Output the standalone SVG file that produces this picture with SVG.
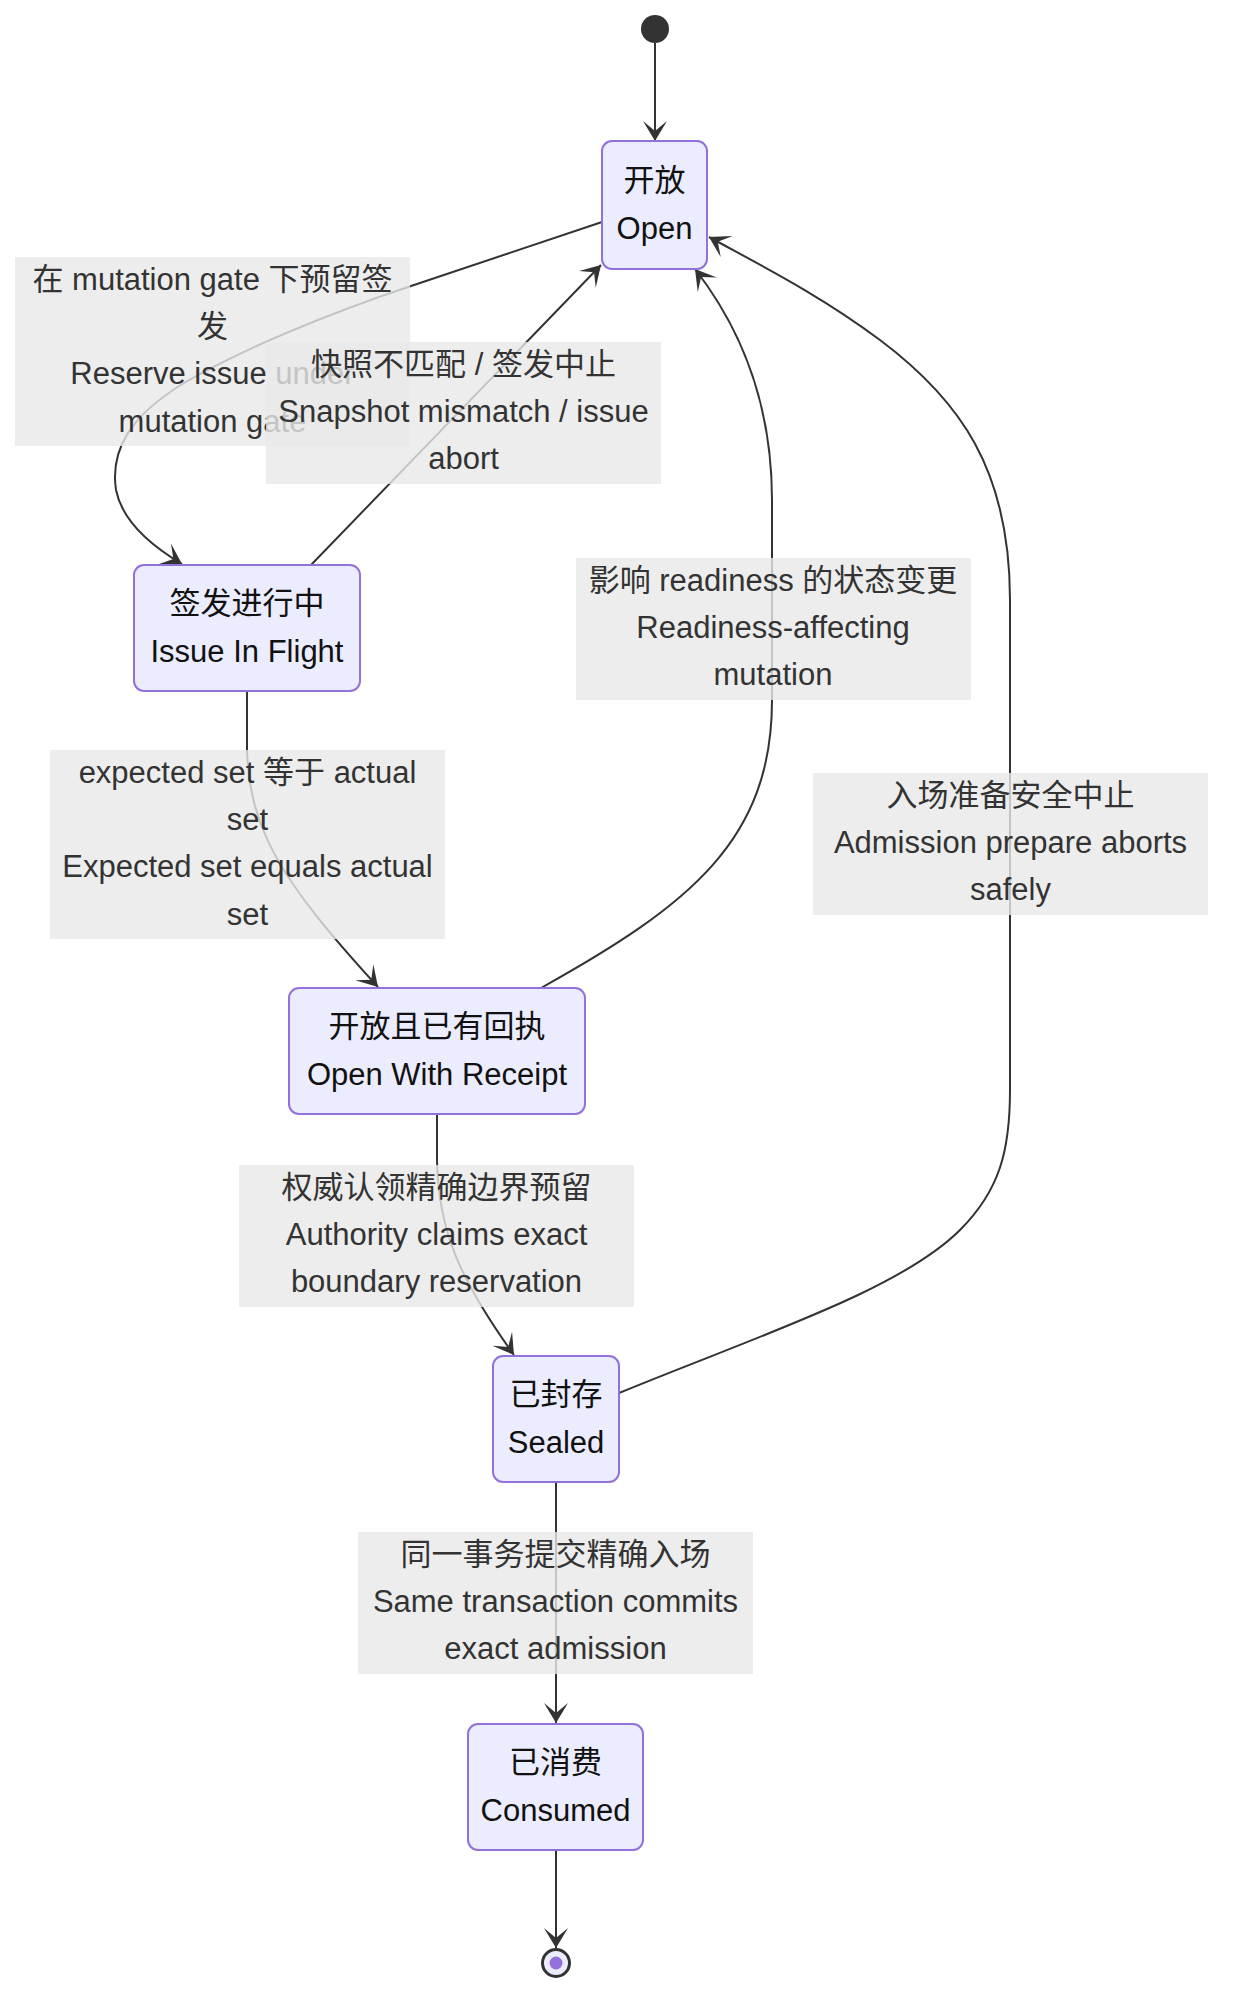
<svg xmlns="http://www.w3.org/2000/svg" width="1240" height="2016" viewBox="0 0 1240 2016">
<style>
.bg{fill:#ffffff}
.node rect{fill:#ECECFF;stroke:#9370DB;stroke-width:2}
.node text{fill:#111111}
text{font-family:"Liberation Sans","Noto Sans CJK SC",sans-serif;font-size:31px;text-anchor:middle;dominant-baseline:central}
.edge{fill:none;stroke:#333333;stroke-width:2}
.lbl rect{fill:#e8e8e8;fill-opacity:0.8}
.lbl text{fill:#333333}
</style>
<defs>
<marker id="arr" markerUnits="userSpaceOnUse" markerWidth="20" markerHeight="24" refX="20" refY="12" orient="auto" viewBox="0 0 20 24">
<path d="M0,0 L20,12 L0,24 L10,12 Z" fill="#333333"/>
</marker>
</defs>
<rect class="bg" x="0" y="0" width="1240" height="2016"/>
<g id="connectors">
<path class="edge" d="M655,43 L655,141" marker-end="url(#arr)"/>
<path class="edge" d="M602,222 L411,286 C330,313 240,350 184,383 C130,416 110,450 116,490 C122,520 150,545 182,564" marker-end="url(#arr)"/>
<path class="edge" d="M311,565 L601,265" marker-end="url(#arr)"/>
<path class="edge" d="M541,988 C690,905 772,840 772,700 L772,500 C772,420 750,340 695,269" marker-end="url(#arr)"/>
<path class="edge" d="M619,1393 C760,1335 900,1290 960,1230 C1000,1190 1010,1150 1010,1090 L1010,600 C1010,470 960,400 880,340 C820,295 760,265 709,237" marker-end="url(#arr)"/>
<path class="edge" d="M247,691 L247,750 C250,830 280,880 378,987" marker-end="url(#arr)"/>
<path class="edge" d="M437,1114 L437,1160 C438,1230 460,1280 514,1355" marker-end="url(#arr)"/>
<path class="edge" d="M556,1482 L556,1723" marker-end="url(#arr)"/>
<path class="edge" d="M556,1850 L556,1948" marker-end="url(#arr)"/>
</g>
<g id="start"><circle cx="655" cy="29" r="14" fill="#333333"/></g>
<g id="open" class="node"><rect x="602" y="141" width="105" height="128" rx="10"/><text x="654.5" y="180">开放</text><text x="654.5" y="228">Open</text></g>
<g id="issue" class="node"><rect x="134" y="565" width="226" height="126" rx="10"/><text x="247" y="603">签发进行中</text><text x="247" y="651">Issue In Flight</text></g>
<g id="receipt" class="node"><rect x="289" y="988" width="296" height="126" rx="10"/><text x="437" y="1026">开放且已有回执</text><text x="437" y="1074">Open With Receipt</text></g>
<g id="sealed" class="node"><rect x="493" y="1356" width="126" height="126" rx="10"/><text x="556" y="1394">已封存</text><text x="556" y="1442">Sealed</text></g>
<g id="consumed" class="node"><rect x="468" y="1724" width="175" height="126" rx="10"/><text x="555.5" y="1762">已消费</text><text x="555.5" y="1810">Consumed</text></g>
<g id="end"><circle cx="556" cy="1963" r="13.5" fill="#ECECFF" stroke="#333333" stroke-width="3"/><circle cx="556" cy="1963" r="6.5" fill="#9370DB"/></g>
<g id="labels">
<g class="lbl"><rect x="15" y="257" width="395" height="189"/><text x="212.5" y="279">在 mutation gate 下预留签</text><text x="212.5" y="326">发</text><text x="212.5" y="373">Reserve issue under</text><text x="212.5" y="421">mutation gate</text></g>
<g class="lbl"><rect x="266" y="342" width="395" height="142"/><text x="463.5" y="364">快照不匹配 / 签发中止</text><text x="463.5" y="411">Snapshot mismatch / issue</text><text x="463.5" y="458">abort</text></g>
<g class="lbl"><rect x="576" y="558" width="395" height="142"/><text x="773" y="580">影响 readiness 的状态变更</text><text x="773" y="627">Readiness-affecting</text><text x="773" y="674">mutation</text></g>
<g class="lbl"><rect x="813" y="773" width="395" height="142"/><text x="1010.5" y="795">入场准备安全中止</text><text x="1010.5" y="842">Admission prepare aborts</text><text x="1010.5" y="889">safely</text></g>
<g class="lbl"><rect x="50" y="750" width="395" height="189"/><text x="247.5" y="772">expected set 等于 actual</text><text x="247.5" y="819">set</text><text x="247.5" y="866">Expected set equals actual</text><text x="247.5" y="914">set</text></g>
<g class="lbl"><rect x="239" y="1165" width="395" height="142"/><text x="436.5" y="1187">权威认领精确边界预留</text><text x="436.5" y="1234">Authority claims exact</text><text x="436.5" y="1281">boundary reservation</text></g>
<g class="lbl"><rect x="358" y="1532" width="395" height="142"/><text x="555.5" y="1554">同一事务提交精确入场</text><text x="555.5" y="1601">Same transaction commits</text><text x="555.5" y="1648">exact admission</text></g>
</g>
</svg>
